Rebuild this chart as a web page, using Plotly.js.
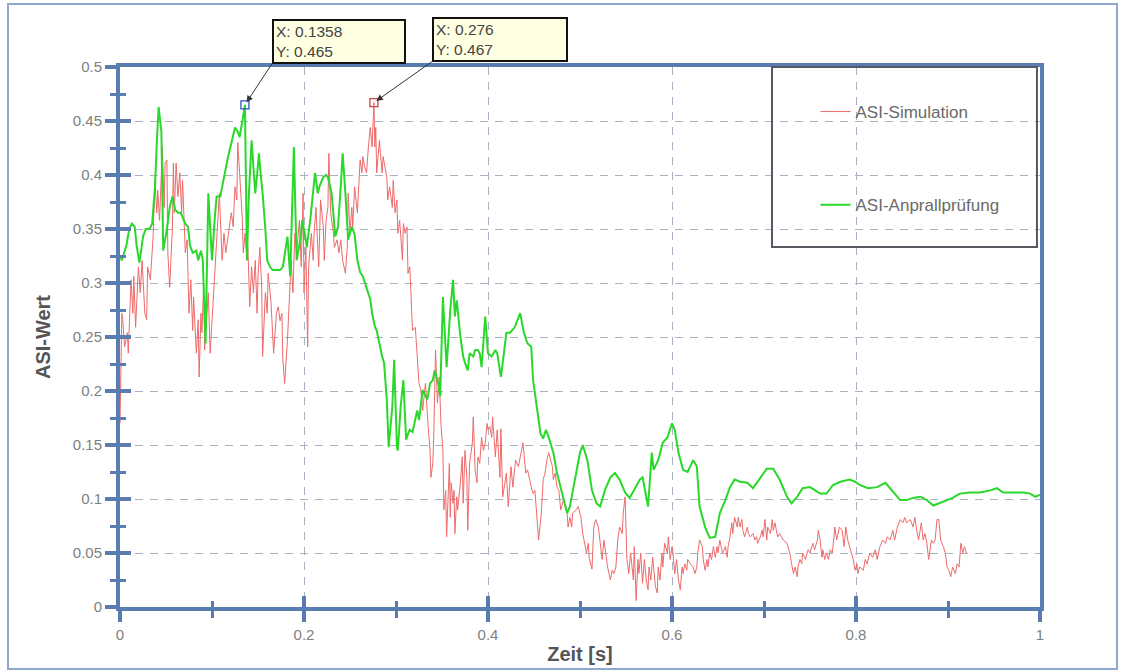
<!DOCTYPE html>
<html>
<head>
<meta charset="utf-8">
<script src="https://cdn.plot.ly/plotly-3.0.1.min.js"></script>
<style>
  html, body { margin: 0; padding: 0; background: #ffffff; }
  #wrap { position: relative; width: 1121px; height: 672px; }
  #chart { position: absolute; left: 0; top: 0; width: 1121px; height: 672px; }
  #frame { position: absolute; left: 7px; top: 3px; width: 1107px; height: 663px;
           border: 2px solid #8ea8cf; pointer-events: none; }
</style>
</head>
<body>
<div id="wrap"><div id="chart"></div><div id="frame"></div></div>
<script>
// ---- data (time in s, ASI value) ----
const simTime = [0,0.001,0.002,0.003,0.005,0.008,0.009,0.012,0.014,0.015,0.017,0.020,0.022,0.024,0.025,0.027,0.029,0.030,0.033,0.035,0.036,0.038,0.040,0.041,0.043,0.046,0.047,0.048,0.049,0.051,0.052,0.054,0.057,0.058,0.059,0.061,0.063,0.065,0.067,0.068,0.071,0.073,0.075,0.077,0.079,0.080,0.083,0.085,0.086,0.088,0.089,0.091,0.092,0.096,0.098,0.100,0.103,0.105,0.108,0.111,0.113,0.115,0.117,0.121,0.123,0.125,0.127,0.128,0.130,0.133,0.134,0.136,0.138,0.139,0.141,0.143,0.145,0.147,0.149,0.150,0.152,0.154,0.155,0.158,0.160,0.161,0.164,0.166,0.167,0.170,0.172,0.174,0.176,0.177,0.179,0.182,0.184,0.186,0.188,0.190,0.192,0.195,0.197,0.199,0.200,0.202,0.204,0.205,0.208,0.210,0.211,0.213,0.215,0.216,0.218,0.221,0.222,0.224,0.226,0.227,0.229,0.232,0.233,0.236,0.238,0.240,0.242,0.245,0.247,0.248,0.250,0.252,0.253,0.255,0.258,0.259,0.261,0.263,0.264,0.266,0.268,0.270,0.272,0.274,0.275,0.276,0.277,0.278,0.279,0.282,0.283,0.285,0.286,0.288,0.290,0.291,0.293,0.296,0.297,0.299,0.301,0.302,0.304,0.307,0.308,0.310,0.312,0.313,0.315,0.317,0.318,0.321,0.322,0.323,0.325,0.327,0.329,0.332,0.334,0.335,0.337,0.338,0.340,0.341,0.343,0.345,0.347,0.348,0.349,0.351,0.352,0.354,0.355,0.358,0.359,0.360,0.362,0.363,0.364,0.366,0.367,0.370,0.372,0.373,0.375,0.377,0.378,0.380,0.383,0.384,0.386,0.388,0.389,0.391,0.393,0.395,0.397,0.399,0.400,0.402,0.404,0.405,0.408,0.410,0.411,0.413,0.414,0.416,0.420,0.422,0.425,0.427,0.430,0.433,0.436,0.438,0.441,0.443,0.447,0.449,0.451,0.453,0.455,0.458,0.460,0.462,0.464,0.466,0.470,0.471,0.473,0.475,0.477,0.479,0.482,0.484,0.486,0.487,0.489,0.491,0.492,0.496,0.498,0.501,0.503,0.507,0.509,0.510,0.513,0.515,0.517,0.520,0.522,0.524,0.526,0.528,0.530,0.533,0.535,0.537,0.539,0.541,0.543,0.546,0.547,0.549,0.550,0.551,0.553,0.555,0.558,0.559,0.561,0.563,0.564,0.566,0.568,0.570,0.572,0.574,0.575,0.577,0.579,0.582,0.584,0.585,0.587,0.589,0.590,0.592,0.595,0.596,0.598,0.600,0.601,0.603,0.605,0.607,0.609,0.611,0.612,0.614,0.616,0.617,0.620,0.623,0.625,0.627,0.628,0.630,0.633,0.634,0.636,0.638,0.639,0.641,0.643,0.645,0.647,0.649,0.650,0.652,0.654,0.655,0.658,0.660,0.661,0.663,0.665,0.666,0.668,0.671,0.672,0.674,0.676,0.677,0.679,0.682,0.683,0.685,0.688,0.690,0.692,0.693,0.696,0.698,0.699,0.701,0.703,0.704,0.707,0.709,0.710,0.712,0.714,0.715,0.717,0.721,0.725,0.728,0.730,0.732,0.734,0.736,0.737,0.739,0.741,0.742,0.745,0.747,0.748,0.750,0.752,0.753,0.755,0.758,0.759,0.761,0.763,0.764,0.766,0.768,0.770,0.772,0.774,0.775,0.777,0.779,0.782,0.785,0.787,0.789,0.791,0.795,0.797,0.799,0.801,0.802,0.804,0.808,0.810,0.812,0.815,0.818,0.821,0.823,0.826,0.829,0.832,0.834,0.837,0.840,0.842,0.845,0.848,0.851,0.853,0.855,0.859,0.862,0.864,0.866,0.868,0.871,0.873,0.875,0.877,0.879,0.882,0.884,0.886,0.888,0.890,0.892,0.895,0.897,0.899,0.901,0.903,0.905,0.908,0.910,0.912,0.914,0.916,0.918,0.920];
const simASI = [0.17,0.22,0.272,0.266,0.241,0.254,0.235,0.303,0.272,0.306,0.259,0.315,0.291,0.321,0.303,0.272,0.266,0.315,0.303,0.328,0.343,0.395,0.365,0.386,0.358,0.426,0.395,0.37,0.411,0.414,0.328,0.296,0.352,0.411,0.365,0.411,0.38,0.402,0.365,0.395,0.328,0.34,0.272,0.303,0.256,0.287,0.235,0.266,0.213,0.272,0.254,0.3,0.238,0.291,0.235,0.266,0.306,0.333,0.383,0.321,0.346,0.328,0.34,0.365,0.352,0.389,0.377,0.43,0.402,0.358,0.328,0.346,0.321,0.333,0.278,0.315,0.291,0.321,0.272,0.306,0.333,0.296,0.232,0.291,0.272,0.309,0.284,0.254,0.235,0.272,0.278,0.265,0.272,0.229,0.207,0.247,0.284,0.321,0.291,0.346,0.328,0.358,0.315,0.383,0.291,0.333,0.241,0.315,0.346,0.321,0.346,0.37,0.333,0.315,0.377,0.352,0.321,0.358,0.37,0.42,0.365,0.346,0.333,0.34,0.328,0.34,0.321,0.309,0.333,0.383,0.346,0.37,0.352,0.389,0.365,0.383,0.414,0.402,0.417,0.407,0.402,0.426,0.444,0.426,0.455,0.467,0.426,0.444,0.402,0.432,0.42,0.402,0.417,0.407,0.398,0.377,0.389,0.37,0.395,0.365,0.377,0.346,0.358,0.321,0.355,0.346,0.352,0.309,0.315,0.275,0.256,0.259,0.247,0.229,0.207,0.201,0.182,0.207,0.176,0.167,0.145,0.12,0.133,0.157,0.238,0.189,0.213,0.189,0.167,0.145,0.09,0.108,0.065,0.133,0.083,0.115,0.096,0.108,0.068,0.102,0.09,0.115,0.139,0.096,0.145,0.12,0.071,0.133,0.152,0.176,0.127,0.115,0.139,0.133,0.157,0.145,0.152,0.17,0.164,0.167,0.157,0.176,0.139,0.164,0.152,0.12,0.165,0.102,0.124,0.093,0.13,0.111,0.136,0.13,0.143,0.152,0.124,0.127,0.111,0.105,0.108,0.087,0.062,0.087,0.118,0.124,0.136,0.143,0.13,0.118,0.124,0.111,0.108,0.09,0.099,0.093,0.087,0.074,0.083,0.074,0.087,0.09,0.093,0.083,0.068,0.05,0.059,0.046,0.035,0.074,0.081,0.074,0.056,0.044,0.062,0.05,0.037,0.025,0.034,0.031,0.037,0.062,0.074,0.068,0.087,0.102,0.056,0.044,0.031,0.05,0.025,0.056,0.006,0.044,0.031,0.05,0.022,0.044,0.025,0.016,0.037,0.025,0.046,0.019,0.013,0.037,0.025,0.05,0.037,0.059,0.05,0.065,0.044,0.056,0.05,0.031,0.044,0.025,0.016,0.037,0.031,0.04,0.034,0.044,0.04,0.037,0.031,0.037,0.05,0.062,0.056,0.044,0.034,0.044,0.037,0.05,0.044,0.056,0.046,0.056,0.05,0.062,0.053,0.05,0.056,0.046,0.056,0.065,0.078,0.068,0.083,0.074,0.083,0.074,0.081,0.071,0.065,0.074,0.068,0.065,0.068,0.062,0.065,0.059,0.065,0.071,0.065,0.081,0.062,0.074,0.068,0.081,0.071,0.078,0.068,0.065,0.068,0.062,0.059,0.05,0.04,0.031,0.037,0.028,0.037,0.044,0.04,0.05,0.044,0.05,0.053,0.05,0.056,0.059,0.053,0.062,0.071,0.062,0.046,0.053,0.044,0.05,0.044,0.053,0.05,0.056,0.074,0.062,0.074,0.071,0.056,0.074,0.062,0.05,0.044,0.034,0.04,0.031,0.037,0.034,0.044,0.04,0.05,0.046,0.053,0.044,0.056,0.062,0.059,0.065,0.062,0.071,0.062,0.074,0.081,0.078,0.083,0.078,0.081,0.074,0.083,0.071,0.062,0.078,0.062,0.068,0.059,0.044,0.062,0.059,0.062,0.081,0.081,0.062,0.056,0.05,0.037,0.034,0.028,0.037,0.031,0.04,0.037,0.059,0.05,0.056,0.05];

const testTime = [0,0.002,0.007,0.010,0.013,0.016,0.018,0.021,0.023,0.025,0.028,0.032,0.035,0.038,0.040,0.042,0.045,0.047,0.049,0.051,0.054,0.057,0.060,0.063,0.066,0.071,0.074,0.076,0.079,0.083,0.085,0.088,0.090,0.093,0.096,0.098,0.100,0.103,0.105,0.109,0.111,0.114,0.117,0.120,0.123,0.125,0.128,0.130,0.133,0.135,0.1358,0.138,0.140,0.143,0.147,0.149,0.151,0.153,0.155,0.158,0.160,0.163,0.166,0.170,0.174,0.177,0.182,0.185,0.187,0.189,0.190,0.192,0.196,0.198,0.201,0.203,0.207,0.209,0.212,0.215,0.217,0.221,0.224,0.226,0.230,0.234,0.237,0.240,0.242,0.245,0.248,0.252,0.255,0.258,0.261,0.264,0.268,0.272,0.274,0.277,0.279,0.283,0.285,0.287,0.290,0.292,0.296,0.298,0.301,0.302,0.305,0.308,0.311,0.313,0.315,0.318,0.323,0.325,0.329,0.334,0.337,0.340,0.342,0.346,0.348,0.351,0.353,0.355,0.359,0.362,0.364,0.366,0.370,0.373,0.375,0.378,0.380,0.384,0.386,0.389,0.391,0.393,0.397,0.399,0.400,0.404,0.408,0.410,0.412,0.414,0.416,0.420,0.424,0.429,0.435,0.439,0.443,0.447,0.449,0.453,0.457,0.460,0.463,0.466,0.471,0.475,0.480,0.486,0.489,0.495,0.500,0.503,0.508,0.513,0.518,0.522,0.527,0.533,0.538,0.543,0.549,0.554,0.560,0.565,0.568,0.571,0.574,0.578,0.580,0.585,0.590,0.595,0.600,0.603,0.607,0.612,0.617,0.623,0.627,0.630,0.636,0.641,0.647,0.652,0.658,0.663,0.668,0.674,0.682,0.688,0.696,0.703,0.710,0.717,0.725,0.730,0.736,0.742,0.750,0.755,0.761,0.768,0.775,0.783,0.793,0.799,0.804,0.813,0.823,0.832,0.839,0.848,0.855,0.862,0.870,0.877,0.884,0.891,0.899,0.905,0.913,0.924,0.935,0.946,0.953,0.960,0.971,0.982,0.989,0.995,1.0];
const testASI = [0.325,0.321,0.335,0.35,0.355,0.352,0.335,0.319,0.33,0.343,0.35,0.35,0.355,0.389,0.43,0.463,0.44,0.33,0.34,0.35,0.37,0.38,0.368,0.365,0.365,0.355,0.352,0.335,0.328,0.33,0.321,0.33,0.321,0.244,0.383,0.35,0.321,0.36,0.38,0.38,0.39,0.402,0.415,0.426,0.438,0.444,0.44,0.435,0.45,0.463,0.465,0.321,0.38,0.432,0.383,0.4,0.42,0.4,0.383,0.35,0.321,0.315,0.312,0.312,0.312,0.315,0.343,0.306,0.38,0.426,0.39,0.321,0.34,0.358,0.345,0.333,0.36,0.377,0.402,0.383,0.39,0.398,0.4,0.398,0.383,0.343,0.352,0.39,0.42,0.383,0.34,0.352,0.345,0.321,0.31,0.306,0.296,0.285,0.272,0.26,0.256,0.238,0.232,0.226,0.192,0.148,0.185,0.229,0.148,0.145,0.185,0.21,0.155,0.16,0.164,0.162,0.182,0.173,0.201,0.192,0.207,0.21,0.219,0.207,0.195,0.287,0.254,0.222,0.275,0.303,0.269,0.284,0.25,0.232,0.226,0.219,0.235,0.232,0.238,0.238,0.235,0.222,0.269,0.245,0.235,0.232,0.238,0.235,0.225,0.213,0.226,0.254,0.254,0.259,0.272,0.254,0.244,0.241,0.21,0.185,0.161,0.156,0.164,0.157,0.143,0.124,0.108,0.087,0.093,0.12,0.143,0.15,0.136,0.108,0.096,0.093,0.108,0.12,0.124,0.118,0.106,0.101,0.111,0.118,0.12,0.105,0.093,0.143,0.127,0.136,0.152,0.157,0.17,0.164,0.143,0.127,0.125,0.136,0.13,0.093,0.074,0.064,0.065,0.087,0.099,0.111,0.118,0.116,0.115,0.11,0.12,0.128,0.128,0.118,0.102,0.096,0.102,0.11,0.111,0.108,0.105,0.105,0.113,0.116,0.118,0.116,0.113,0.11,0.111,0.115,0.108,0.099,0.099,0.101,0.102,0.099,0.094,0.096,0.099,0.101,0.105,0.106,0.106,0.108,0.11,0.106,0.106,0.106,0.105,0.102,0.104];

const seriesNames = ['ASI-Simulation', 'ASI-Anprallprüfung'];
const tipX = [0.1358, 0.276];
const tipY = [0.465, 0.467];
const tipLabels = ['X: 0.1358<br>Y: 0.465', 'X: 0.276<br>Y: 0.467'];
const xTickVals = [0, 0.2, 0.4, 0.6, 0.8, 1];
const yTickVals = [0, 0.05, 0.1, 0.15, 0.2, 0.25, 0.3, 0.35, 0.4, 0.45, 0.5];

const axisBlue = '#5a7db1';
const gridCol = '#a9b2c2';
const fam = 'Liberation Sans, Arial, sans-serif';

const traces = [
  { x: simTime, y: simASI, type: 'scatter', mode: 'lines', name: seriesNames[0],
    legendgroup: 'a', line: { color: '#ee6a6a', width: 1 } },
  { x: testTime, y: testASI, type: 'scatter', mode: 'lines', name: seriesNames[1],
    legendgroup: 'b', line: { color: '#2ad82a', width: 2 } },
  { x: tipX, y: tipY, type: 'scatter', mode: 'markers', showlegend: false,
    xaxis: 'x2', yaxis: 'y2',
    marker: { symbol: 'square-open', size: 8, color: ['#3050c8', '#d04040'], line: { width: 1.3 } } }
];

const baseX = {
  range: [0, 1], showline: true, linecolor: axisBlue, linewidth: 4, zeroline: false,
  tickcolor: axisBlue, tickwidth: 3.5
};
const baseY = {
  range: [0, 0.5], showline: true, linecolor: axisBlue, linewidth: 4, zeroline: false,
  tickcolor: axisBlue, tickwidth: 3.5
};

const layout = {
  width: 1121, height: 672,
  margin: { l: 120, r: 81, t: 67, b: 65 },
  paper_bgcolor: '#ffffff', plot_bgcolor: '#ffffff',
  font: { family: fam, color: '#7a7a7a', size: 15 },
  showlegend: true,
  legend: {
    x: 0.756, y: 0.95, xanchor: 'left', yanchor: 'top',
    bgcolor: 'rgba(0,0,0,0)', borderwidth: 0,
    traceorder: 'grouped', tracegroupgap: 68,
    font: { size: 17, color: '#6a6a6a', family: fam }
  },
  xaxis: Object.assign({}, baseX, {
    mirror: true, ticks: 'outside', ticklen: 11, tickvals: xTickVals,
    showgrid: true, gridcolor: gridCol, griddash: '8px,7px', gridwidth: 1,
    minor: { dtick: 0.1, ticks: 'outside', ticklen: 7, tickwidth: 3, tickcolor: axisBlue, showgrid: false },
    tickfont: { size: 15, color: '#808080', family: fam },
    title: { text: 'Zeit [s]', font: { size: 20, color: '#555555', family: fam, weight: 'bold' }, standoff: 6 }
  }),
  yaxis: Object.assign({}, baseY, {
    mirror: true, ticks: 'outside', ticklen: 11, tickvals: yTickVals,
    showgrid: true, gridcolor: gridCol, griddash: '8px,7px', gridwidth: 1,
    minor: { dtick: 0.025, ticks: 'outside', ticklen: 6, tickwidth: 3, tickcolor: axisBlue, showgrid: false },
    tickfont: { size: 15, color: '#808080', family: fam },
    title: { text: 'ASI-Wert', font: { size: 20, color: '#555555', family: fam, weight: 'bold' }, standoff: 18 }
  }),
  xaxis2: Object.assign({}, baseX, {
    overlaying: 'x', anchor: 'y2', side: 'bottom', showline: false, showgrid: false,
    ticks: 'inside', ticklen: 11, tickvals: xTickVals, showticklabels: false,
    minor: { dtick: 0.1, ticks: 'inside', ticklen: 6, tickwidth: 3, tickcolor: axisBlue, showgrid: false }
  }),
  yaxis2: Object.assign({}, baseY, {
    overlaying: 'y', anchor: 'x2', side: 'left', showline: false, showgrid: false,
    ticks: 'inside', ticklen: 11, tickvals: yTickVals, showticklabels: false,
    minor: { dtick: 0.025, ticks: 'inside', ticklen: 6, tickwidth: 3, tickcolor: axisBlue, showgrid: false }
  }),
  shapes: [
    { type: 'rect', xref: 'paper', yref: 'paper', x0: 0.7087, x1: 0.9967, y0: 0.6667, y1: 1.0,
      line: { color: '#555a60', width: 2 }, fillcolor: 'rgba(0,0,0,0)', layer: 'above' }
  ],
  annotations: tipLabels.map((t, i) => ({
    x: tipX[i], y: tipY[i], xref: 'x', yref: 'y', text: t,
    showarrow: true, ax: i === 0 ? 27 : 58, ay: -41, axref: 'pixel', ayref: 'pixel',
    xanchor: 'left', yanchor: 'bottom', align: 'left',
    width: i === 0 ? 126 : 128, height: 37, borderpad: 2,
    bgcolor: '#ffffe1', bordercolor: '#111111', borderwidth: 2,
    font: { size: 15.5, color: '#444444', family: fam },
    arrowhead: 2, arrowsize: 1.3, arrowwidth: 1, arrowcolor: '#333333', standoff: 3
  }))
};

Plotly.newPlot('chart', traces, layout, { displayModeBar: false, staticPlot: true });
</script>
</body>
</html>
